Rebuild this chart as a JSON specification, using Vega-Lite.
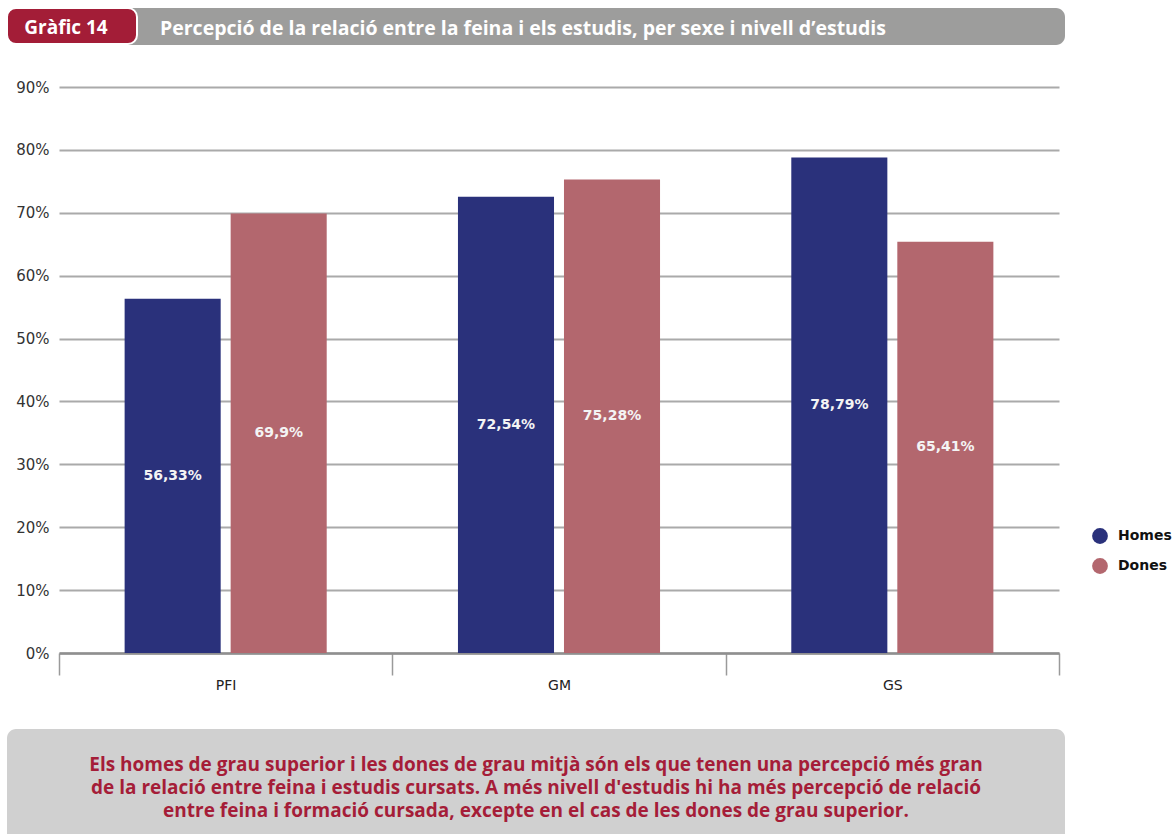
{
  "$schema": "https://vega.github.io/schema/vega-lite/v6.json",
  "autosize": {"type": "pad"},
  "padding": {"left": 6, "top": 7, "right": 0, "bottom": 0},
  "background": "white",
  "bounds": "flush",
  "spacing": 0,
  "config": {"view": {"stroke": null}},
  "vconcat": [
    {
      "width": 1000,
      "height": 79,
      "data": {"values": [{"k": 1}]},
      "layer": [
        {
          "mark": {"type": "rect", "color": "#9d9d9c", "cornerRadius": 9},
          "encoding": {
            "x": {"datum": 60, "type": "quantitative", "scale": {"domain": [0, 1000], "nice": false}, "axis": null},
            "x2": {"datum": 1006},
            "y": {"datum": 0, "type": "quantitative", "scale": {"domain": [79, 0], "nice": false}, "axis": null},
            "y2": {"datum": 37}
          }
        },
        {
          "mark": {"type": "rect", "color": "#a31d37", "cornerRadius": 9, "stroke": "white", "strokeWidth": 2},
          "encoding": {
            "x": {"datum": -52, "type": "quantitative"},
            "x2": {"datum": 78},
            "y": {"datum": 0, "type": "quantitative"},
            "y2": {"datum": 36}
          }
        },
        {
          "mark": {"type": "text", "text": "Gràfic 14", "font": "Open Sans", "fontWeight": "bold", "fontSize": 19, "color": "white", "align": "center", "baseline": "middle"},
          "encoding": {
            "x": {"datum": 7, "type": "quantitative"},
            "y": {"datum": 20, "type": "quantitative"}
          }
        },
        {
          "mark": {"type": "text", "text": "Percepció de la relació entre la feina i els estudis, per sexe i nivell d’estudis", "font": "Open Sans", "fontWeight": "bold", "fontSize": 19.5, "color": "white", "align": "left", "baseline": "middle"},
          "encoding": {
            "x": {"datum": 101, "type": "quantitative"},
            "y": {"datum": 21, "type": "quantitative"}
          }
        }
      ]
    },
    {
      "width": 1000,
      "height": 566,
      "data": {
        "values": [
          {"edu": "PFI", "sex": "Homes", "value": 56.33, "label": "56,33%"},
          {"edu": "PFI", "sex": "Dones", "value": 69.9, "label": "69,9%"},
          {"edu": "GM", "sex": "Homes", "value": 72.54, "label": "72,54%"},
          {"edu": "GM", "sex": "Dones", "value": 75.28, "label": "75,28%"},
          {"edu": "GS", "sex": "Homes", "value": 78.79, "label": "78,79%"},
          {"edu": "GS", "sex": "Dones", "value": 65.41, "label": "65,41%"}
        ]
      },
      "encoding": {
        "x": {
          "field": "edu", "type": "nominal", "sort": ["PFI", "GM", "GS"],
          "scale": {"paddingInner": 0, "paddingOuter": 0},
          "axis": {
            "title": null, "labelAngle": 0, "tickBand": "extent", "ticks": true, "tickSize": 22,
            "tickColor": "#9a9a9a", "tickWidth": 1.5, "domain": true, "domainColor": "#8f8f8f", "domainWidth": 2.5,
            "labelFont": "DejaVu Sans", "labelFontSize": 14, "labelColor": "#222222", "labelPadding": 3, "grid": false
          }
        },
        "xOffset": {
          "field": "sex", "type": "nominal", "sort": ["Homes", "Dones"],
          "scale": {"paddingInner": 0.094, "paddingOuter": 0.619}
        }
      },
      "layer": [
        {
          "mark": {"type": "bar"},
          "encoding": {
            "y": {
              "field": "value", "type": "quantitative",
              "scale": {"domain": [0, 90]},
              "axis": {
                "title": null, "values": [0, 10, 20, 30, 40, 50, 60, 70, 80, 90],
                "labelExpr": "datum.value + '%'", "grid": true, "gridColor": "#aaaaaa", "gridWidth": 2,
                "ticks": false, "domain": false, "labelFont": "DejaVu Sans", "labelFontSize": 15,
                "labelColor": "#333333", "labelPadding": 10
              }
            },
            "color": {
              "field": "sex", "type": "nominal", "sort": ["Homes", "Dones"],
              "scale": {"domain": ["Homes", "Dones"], "range": ["#2a317b", "#b3676e"]},
              "legend": {
                "title": null, "orient": "none", "legendX": 1033, "legendY": 520,
                "symbolType": "circle", "symbolSize": 250, "symbolStrokeWidth": 0,
                "labelFont": "DejaVu Sans", "labelFontWeight": "bold", "labelFontSize": 14,
                "labelColor": "#111111", "labelOffset": 10, "rowPadding": 14, "padding": 0
              }
            }
          }
        },
        {
          "mark": {"type": "text", "font": "DejaVu Sans", "fontWeight": "bold", "fontSize": 14, "color": "#f4f4f4", "baseline": "middle", "align": "center"},
          "encoding": {
            "y": {"field": "value", "type": "quantitative", "scale": {"domain": [0, 180]}, "axis": null},
            "text": {"field": "label", "type": "nominal"}
          }
        }
      ],
      "resolve": {"scale": {"y": "independent"}}
    },
    {
      "width": 1000,
      "height": 181,
      "data": {"values": [{"k": 1}]},
      "layer": [
        {
          "mark": {"type": "rect", "color": "#d0d0d0", "cornerRadiusTopLeft": 9, "cornerRadiusTopRight": 9},
          "encoding": {
            "x": {"datum": -52, "type": "quantitative", "scale": {"domain": [0, 1000], "nice": false}, "axis": null},
            "x2": {"datum": 1006},
            "y": {"datum": 76, "type": "quantitative", "scale": {"domain": [181, 0], "nice": false}, "axis": null},
            "y2": {"datum": 181}
          }
        },
        {
          "mark": {
            "type": "text",
            "text": ["Els homes de grau superior i les dones de grau mitjà són els que tenen una percepció més gran", "de la relació entre feina i estudis cursats. A més nivell d'estudis hi ha més percepció de relació", "entre feina i formació cursada, excepte en el cas de les dones de grau superior."],
            "font": "Open Sans", "fontWeight": "bold", "fontSize": 19, "color": "#a51d38",
            "align": "center", "baseline": "middle", "lineHeight": 23
          },
          "encoding": {
            "x": {"datum": 477, "type": "quantitative"},
            "y": {"datum": 112, "type": "quantitative"}
          }
        }
      ]
    }
  ]
}
